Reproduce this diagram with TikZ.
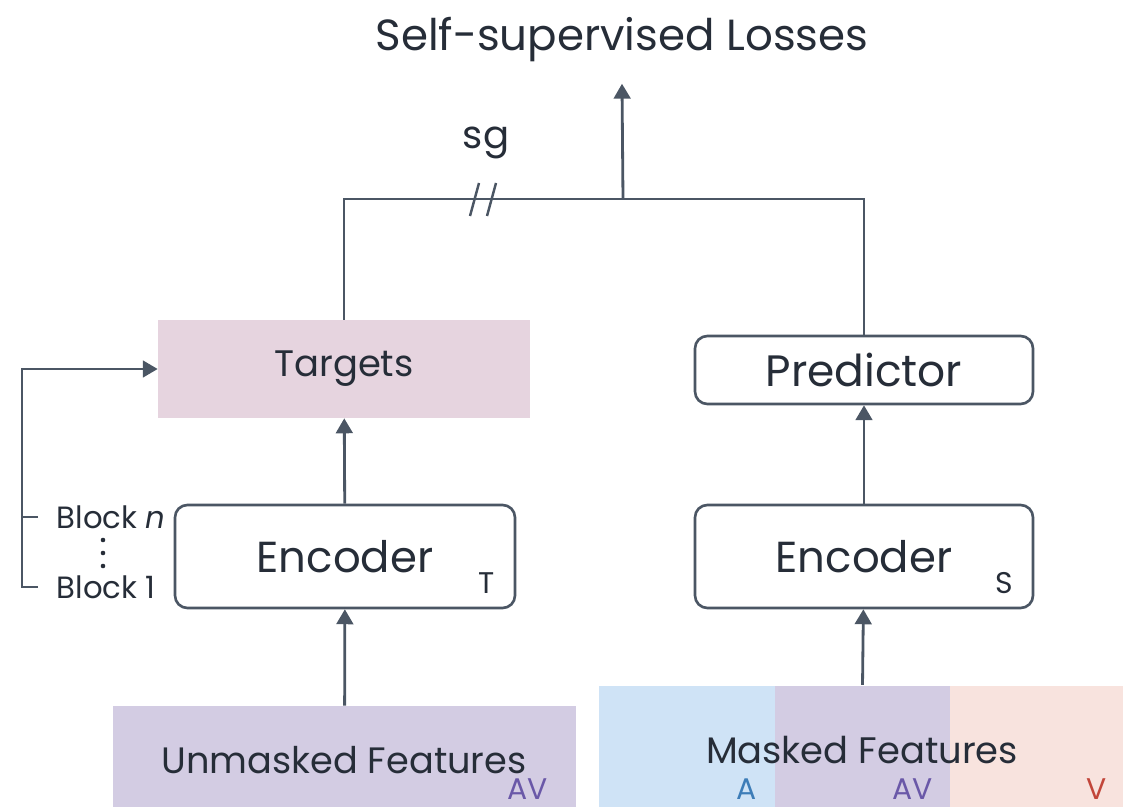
\documentclass[tikz,border=0pt]{standalone}
\usepackage{fontspec}
\setmainfont{Poppins}
\usetikzlibrary{arrows.meta}

\definecolor{wire}{HTML}{4B5664}
\definecolor{ink}{HTML}{262D38}
\definecolor{tgtfill}{HTML}{E6D4DF}
\definecolor{avfill}{HTML}{D3CCE3}
\definecolor{afill}{HTML}{CFE3F6}
\definecolor{vfill}{HTML}{F8E3DE}
\definecolor{atext}{HTML}{3D7DB8}
\definecolor{avtext}{HTML}{6A58A8}
\definecolor{vtext}{HTML}{C2463A}

\begin{document}
\begin{tikzpicture}[x=0.02cm,y=-0.02cm,
  every node/.style={text=ink},
  wireline/.style={draw=wire,line width=1.6pt},
  arr/.style={wireline,-{Triangle[length=8.5pt,width=9.5pt]}},
  roundbox/.style={draw=wire,line width=1.5pt,rounded corners=7pt,fill=white},
  flatbox/.style={inner sep=0pt},
  tag/.style={inner sep=0pt,font=\fontsize{17}{20}\selectfont},
  blocklbl/.style={anchor=west,inner xsep=10.5pt,inner ysep=0pt,font=\fontsize{17.5}{20}\selectfont}]
\useasboundingbox (0,0) rectangle (1123,807);

% boxes
\node[flatbox,fill=tgtfill,minimum width=7.44cm,minimum height=1.96cm,font=\fontsize{21}{25}\selectfont] (targets) at (344,369) {Targets};
\node[roundbox,minimum width=6.76cm,minimum height=1.36cm,font=\fontsize{25}{30}\selectfont] (pred) at (864,370) {Predictor};
\node[roundbox,minimum width=6.8cm,minimum height=2.06cm] (encT) at (345,556.5) {};
\node[roundbox,minimum width=6.76cm,minimum height=2.06cm] (encS) at (864,556.5) {};
\node[font=\fontsize{24.7}{30}\selectfont] (encTtxt) at (345,557) {Encoder};
\node[font=\fontsize{24.7}{30}\selectfont] (encStxt) at (864,557) {Encoder};
\node[tag] (subT) at (487,583) {T};
\node[tag] (subS) at (1004,583) {S};

% inputs
\node[flatbox,fill=avfill,minimum width=9.26cm,minimum height=2.02cm] (unmasked) at (344.5,756.5) {};
\node[font=\fontsize{20.9}{25}\selectfont] (untxt) at (344,760) {Unmasked Features};
\node[tag,text=avtext] (unav) at (528,789) {AV};

\node[flatbox,fill=afill,minimum width=3.52cm,minimum height=2.42cm] (mA) at (687,746.5) {};
\node[flatbox,fill=avfill,minimum width=3.5cm,minimum height=2.42cm] (mAV) at (862.5,746.5) {};
\node[flatbox,fill=vfill,minimum width=3.46cm,minimum height=2.42cm] (mV) at (1036.5,746.5) {};
\node[inner sep=0pt] (masked) at (862.5,686) {};
\node[font=\fontsize{21}{25}\selectfont] (mtxt) at (862,750) {Masked Features};
\node[tag,text=atext] (la) at (747,789) {A};
\node[tag,text=avtext] (lav) at (913,789) {AV};
\node[tag,text=vtext] (lv) at (1097,789) {V};

% losses and stop-gradient
\node[font=\fontsize{24.8}{29}\selectfont,inner sep=12pt] (losses) at (622,40) {Self-supervised Losses};
\coordinate (joint) at (623,199);
\node[font=\fontsize{22}{26}\selectfont] (sg) at (486,143) {sg};

% block taps
\node[blocklbl] (blkn) at (38,517) {Block \textit{n}};
\node[blocklbl] (blk1) at (38,587) {Block 1};
\foreach \y in {540,553,566}
  \fill[ink] (103,\y) circle (2.3);

% connectors
\draw[arr] (unmasked) -- (encT);
\draw[arr] (masked) -- (encS);
\draw[arr] (encT) -- (targets);
\draw[arr] (encS) -- (pred);
\draw[wireline] (targets.north) |- (joint) -| (pred.north);
\draw[arr] (joint) -- (losses.south);
\foreach \x in {470,487}
  \draw[wireline,line width=1.4pt] (\x,216) -- ++(9,-33);
\draw[wireline] (blkn.west) -- ++(-16,0);
\draw[arr] (blk1.west) -- ++(-16,0) |- (targets.west);
\end{tikzpicture}
\end{document}
